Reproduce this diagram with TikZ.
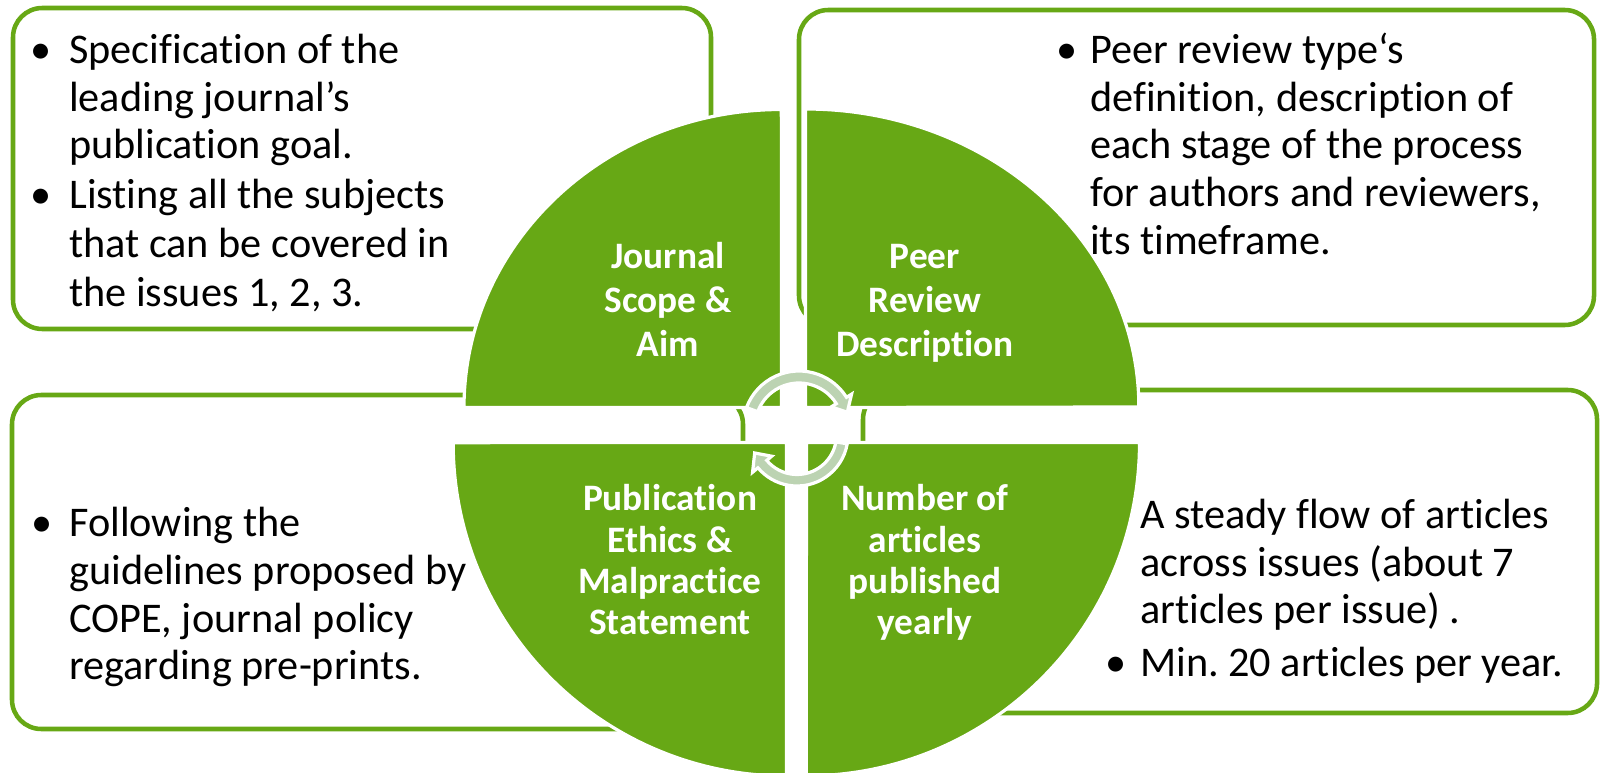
\documentclass[tikz,border=0pt]{standalone}
\usepackage{fontspec}
\setmainfont{Carlito}[RawFeature={-liga;-clig;-calt;-dlig}]
\frenchspacing
\definecolor{qgreen}{RGB}{103,168,21}
\definecolor{agreen}{RGB}{188,211,178}
\tikzset{
  infobox/.style={draw=qgreen, line width=3.4pt, fill=white, rounded corners=22pt},
  quad/.style={fill=qgreen, draw=white, line width=2.4pt},
  carrow/.style={fill=agreen, draw=white, line width=2.4pt, line join=miter},
  body/.style={anchor=base west, inner sep=0pt, font=\fontsize{31.7}{35.6}\selectfont},
  bul/.style={anchor=base, inner sep=0pt, font=\fontsize{31.7}{35.6}\selectfont},
  lbl/.style={anchor=base, inner sep=0pt, text=white, font=\fontsize{28}{31.5}\selectfont\bfseries},
}
\begin{document}
\begin{tikzpicture}[x=0.75pt, y=0.75pt, yscale=-1]
\useasboundingbox (0,0) rectangle (1601,773);

% boxes
\draw[infobox] (13,8) rectangle (711,329);
\draw[infobox] (799,10) rectangle (1594,325);
\draw[infobox] (12,395) rectangle (743,729);
\draw[infobox] (863,390) rectangle (1597,713);

% quadrants
\draw[quad] (781.5,407.5) -- (464,407.5) arc[start angle=180, end angle=270, x radius=238pt, y radius=223.5pt] -- cycle;
\draw[quad] (805.5,407.5) -- (805.5,109) arc[start angle=270, end angle=360, x radius=250pt, y radius=223.5pt] -- cycle;
\draw[quad] (786.5,442.5) -- (786.5,776) arc[start angle=90, end angle=180, x radius=250pt, y radius=250pt] -- cycle;
\draw[quad] (806.5,442.5) -- (1139.5,442.5) arc[start angle=0, end angle=90, x radius=250pt, y radius=250pt] -- cycle;

% circular arrows
\begin{scope}[shift={(799,427)}]
  \draw[carrow] (200.3:56) arc[start angle=200.3, end angle=328, radius=42pt]
    -- (328:62) -- (343:50.5) -- (328:38) -- (328:44)
    arc[start angle=328, end angle=200.3, radius=33pt] -- cycle;
\end{scope}
\begin{scope}[shift={(797,435)}]
  \draw[carrow] (10:51) arc[start angle=10, end angle=140, radius=38.25pt]
    -- (140:58) -- (157:46) -- (140:33) -- (140:39.5)
    arc[start angle=140, end angle=10, radius=29.625pt] -- cycle;
\end{scope}

% labels
\node[lbl] (j1) at (668,269) {Journal};
\node[lbl] (j2) at (668,313) {Scope \&};
\node[lbl] (j3) at (668,356) {Aim};
\node[lbl] (p1) at (925,269) {Peer};
\node[lbl] (p2) at (925,313) {Review};
\node[lbl] (p3) at (925,356) {Description};
\node[lbl] (e1) at (670,510) {Publication};
\node[lbl] (e2) at (670,552) {Ethics \&};
\node[lbl] (e3) at (670,593) {Malpractice};
\node[lbl] (e4) at (670,634) {Statement};
\node[lbl] (n1) at (925,510) {Number of};
\node[lbl] (n2) at (925,552) {articles};
\node[lbl] (n3) at (925,593) {published};
\node[lbl] (n4) at (925,634) {yearly};

% top-left text
\node[bul] (tlb1) at (41,64) {•};
\node[body] (tl1) at (69,64) {Specification of the};
\node[body] (tl2) at (69,112) {leading journal’s};
\node[body] (tl3) at (69,159) {publication goal.};
\node[bul] (tlb2) at (41,209) {•};
\node[body] (tl4) at (69,209) {Listing all the subjects};
\node[body] (tl5) at (69,258) {that can be covered in};
\node[body] (tl6) at (69,306) {the issues 1, 2, 3.};

% top-right text
\node[bul] (trb1) at (1067,64) {•};
\node[body] (tr1) at (1090,64) {Peer review type‘s};
\node[body] (tr2) at (1090,112) {definition, description of};
\node[body] (tr3) at (1090,159) {each stage of the process};
\node[body] (tr4) at (1090,207) {for authors and reviewers,};
\node[body] (tr5) at (1090,255) {its timeframe.};

% bottom-left text
\node[bul] (blb1) at (42,536) {•};
\node[body] (bl1) at (69,536) {Following the};
\node[body] (bl2) at (69,584) {guidelines proposed by};
\node[body] (bl3) at (69,632) {COPE, journal policy};
\node[body] (bl4) at (69,679) {regarding pre-prints.};

% bottom-right text
\node[body] (br1) at (1140,528) {A steady flow of articles};
\node[body] (br2) at (1140,576) {across issues (about 7};
\node[body] (br3) at (1140,623) {articles per issue) .};
\node[bul] (brb1) at (1116,676) {•};
\node[body] (br4) at (1140,676) {Min. 20 articles per year.};
\end{tikzpicture}
\end{document}
